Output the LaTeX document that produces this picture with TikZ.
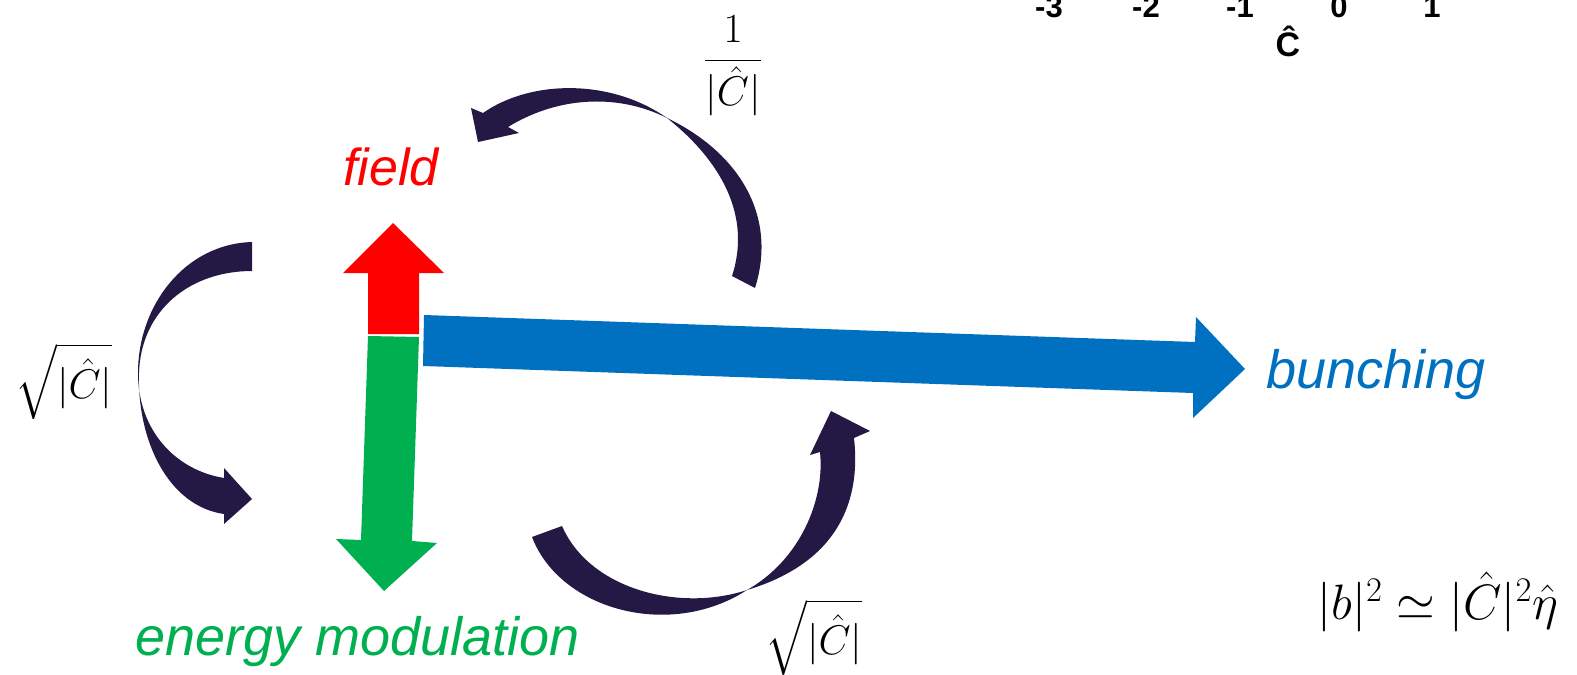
\documentclass[tikz,border=0pt]{standalone}
\usepackage{amsmath}
\usepackage{fontspec}
\newfontfamily\labelfont{Liberation Sans}
\definecolor{loopnavy}{RGB}{36,24,68}
\definecolor{fieldred}{RGB}{255,0,0}
\definecolor{energygreen}{RGB}{0,176,80}
\definecolor{bunchblue}{RGB}{0,112,192}

\begin{document}
\begin{tikzpicture}[
	x=0.5pt, y=-0.5pt,
	caption/.style={ font=\labelfont\itshape\fontsize{27}{31}\selectfont, inner sep=0pt, anchor=base },
	ticklabel/.style={ font=\labelfont\bfseries\fontsize{15.5}{18}\selectfont, inner sep=0pt, anchor=base },
	gain/.style={ font=\fontsize{22}{26}\selectfont, inner sep=0pt },
	loopshape/.style={ fill=loopnavy }
]
\useasboundingbox (0,0) rectangle (1577,674);

% axis remains at the top
\foreach \v/\x in {-3/1049,-2/1146,-1/1240,0/1339,1/1432} \node at (\x,18) (tick\v) [ticklabel] {\v};
\node at (1288,57) (chat) [ticklabel,font=\labelfont\bfseries\fontsize{17}{20}\selectfont] {\^{C}};

% the three block arrows
\fill[fieldred] (368,334) -- (368,273) -- (343,273) -- (393,223) -- (444,273) -- (419,273) -- (419,334) -- cycle;
\fill[energygreen] (368,336) -- (419,337) -- (412,541) -- (437,543) -- (384,591) -- (336,539) -- (361,540) -- cycle;
\fill[bunchblue] (424,315) -- (1195,342) -- (1196,317) -- (1245,369) -- (1193,418) -- (1193,393) -- (423,366) -- cycle;

\node at (391,185) (field) [caption,font=\labelfont\itshape\fontsize{26}{30}\selectfont,text=fieldred] {field};
\node at (1266,388) (bunching) [caption,anchor=base west,text=bunchblue] {bunching};
\node at (358,655) (energy) [caption,text=energygreen] {energy modulation};

% curved feedback arrows
\fill[loopshape] (252,242) .. controls (185,244) and (138,305) .. (138,373) .. controls (138,430) and (175,470) .. (224,478)
	-- (224,468) -- (252,499) -- (224,524) -- (224,514)
	.. controls (168,506) and (137,440) .. (139,373) .. controls (141,310) and (190,271) .. (252,271) -- cycle;
\fill[loopshape] (732,276) .. controls (752,215) and (720,160) .. (667,118) .. controls (610,78) and (530,80) .. (483,113)
	-- (471,108) -- (478,142) -- (519,133) -- (508,127)
	.. controls (555,98) and (615,92) .. (667,118) .. controls (738,152) and (778,215) .. (755,288) -- cycle;
\fill[loopshape] (532,537) .. controls (560,610) and (670,640) .. (747,590) .. controls (800,560) and (825,500) .. (820,452)
	-- (810,455) -- (831,411) -- (870,431) -- (854,438)
	.. controls (862,510) and (830,565) .. (747,590) .. controls (680,612) and (590,590) .. (562,526) -- cycle;

\node at (733,66) (gaintop) [gain] {$\dfrac{1}{|\hat{C}|}$};
\node at (64,381) (gainleft) [gain] {$\sqrt{|\hat{C}|}$};
\node at (814,637) (gainbottom) [gain] {$\sqrt{|\hat{C}|}$};
\node at (1438,602) (power) [gain,font=\fontsize{23.5}{27}\selectfont] {$|b|^2 \simeq |\hat{C}|^2\hat{\eta}$};

\end{tikzpicture}
\end{document}
